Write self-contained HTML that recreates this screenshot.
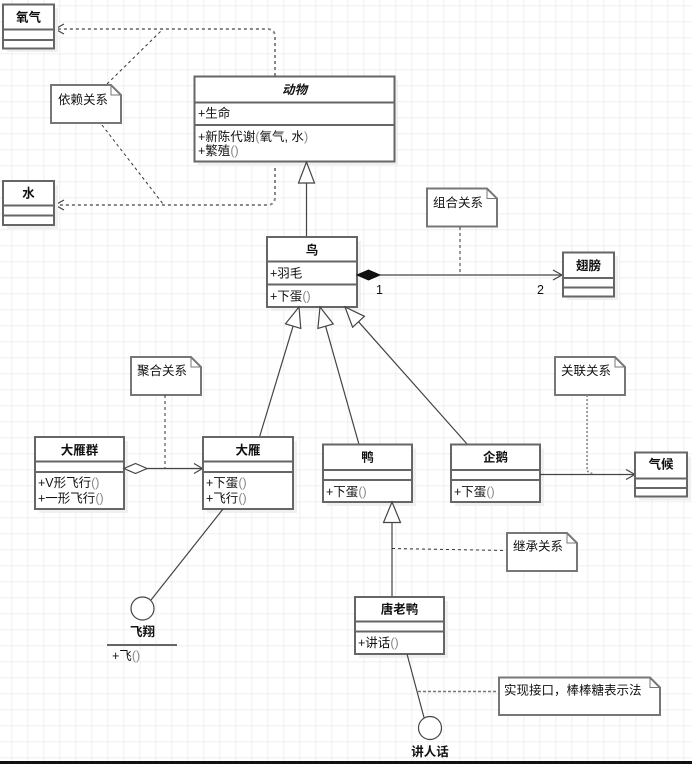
<!DOCTYPE html>
<html><head><meta charset="utf-8"><style>
html,body{margin:0;padding:0;background:#fff;}
svg{display:block;}
text{font-family:"Liberation Sans","Noto Sans CJK SC",sans-serif;font-size:12.5px;fill:#111;}
.t{font-weight:bold;text-anchor:middle;}
.p{fill:#888;}
.box{fill:#fff;stroke:#666;stroke-width:2;}
.sep{stroke:#666;stroke-width:2;}
.note{fill:#fff;stroke:#777;stroke-width:2;}
.ln{stroke:#444;stroke-width:1.2;fill:none;}
.dep{stroke:#888;stroke-width:2;stroke-dasharray:3,3;fill:none;}
.nc{stroke:#333;stroke-width:1;stroke-dasharray:3,3;fill:none;}
.shadow{fill:#f0f0f0;}
</style></head><body>
<svg width="692" height="764" viewBox="0 0 692 764" xmlns="http://www.w3.org/2000/svg">
<defs>
<pattern id="g" x="11.5" y="5.5" width="16" height="16" patternUnits="userSpaceOnUse">
<path d="M0,0 V16 M0,0 H16" stroke="#e9e9e9" stroke-width="1.5" fill="none"/>
</pattern>
</defs>
<rect width="692" height="764" fill="#fff"/>
<rect width="692" height="764" fill="url(#g)"/>

<!-- dependency lines -->
<path class="dep" d="M275,76 L275,37 Q275,29 267,29 L56,29"/>
<path class="dep" d="M275,162 L275,197 Q275,205 267,205 L56,205"/>
<polyline class="ln" stroke="#666" points="64,24 55,29 64,34"/>
<polyline class="ln" stroke="#666" points="64,200 55,205 64,210"/>
<line class="nc" x1="107" y1="84" x2="163" y2="29"/>
<line class="nc" x1="102" y1="125" x2="163" y2="204"/>

<!-- 氧气 -->
<rect class="shadow" x="7" y="8" width="51" height="44"/>
<rect class="box" x="3" y="4.5" width="51" height="44"/>
<line class="sep" x1="3" y1="29.5" x2="54" y2="29.5"/>
<line class="sep" x1="3" y1="40" x2="54" y2="40"/>
<text class="t" x="28.5" y="21.5">氧气</text>

<!-- 水 -->
<rect class="shadow" x="7" y="185" width="51" height="44"/>
<rect class="box" x="3" y="181" width="51" height="44"/>
<line class="sep" x1="3" y1="205.5" x2="54" y2="205.5"/>
<line class="sep" x1="3" y1="215.5" x2="54" y2="215.5"/>
<text class="t" x="28.5" y="197.5">水</text>

<!-- 依赖关系 note -->
<path class="note" d="M51,85 H111 L121,95 V123 H51 Z"/>
<path d="M111,85 V95 H121" stroke="#777" stroke-width="1" fill="none"/>
<text x="58" y="104">依赖关系</text>

<!-- 动物 -->
<rect class="shadow" x="198" y="80" width="200" height="85"/>
<rect class="box" x="194.5" y="76.5" width="200" height="85"/>
<line class="sep" x1="194.5" y1="102.5" x2="394.5" y2="102.5"/>
<line class="sep" x1="194.5" y1="125" x2="394.5" y2="125"/>
<text class="t" x="294.5" y="94" font-style="italic">动物</text>
<text x="198" y="117.5">+生命</text>
<text x="198" y="141">+新陈代谢<tspan class="p">(</tspan>氧气, 水<tspan class="p">)</tspan></text>
<text x="198" y="155">+繁殖<tspan class="p">()</tspan></text>

<!-- 鸟 → 动物 inheritance -->
<line class="ln" x1="306.5" y1="183" x2="306.5" y2="237" stroke-width="1.6"/>
<polygon points="306.5,162 298.5,183 314.5,183" fill="#fff" stroke="#444" stroke-width="1.2"/>

<!-- 鸟 -->
<rect class="shadow" x="271" y="241" width="90" height="70"/>
<rect class="box" x="267" y="237" width="90" height="70"/>
<line class="sep" x1="267" y1="261.5" x2="357" y2="261.5"/>
<line class="sep" x1="267" y1="284.5" x2="357" y2="284.5"/>
<text class="t" x="312" y="254.5">鸟</text>
<text x="270" y="277.5">+羽毛</text>
<text x="270" y="300.5">+下蛋<tspan class="p">()</tspan></text>

<!-- composition -->
<line class="ln" x1="380" y1="275" x2="562" y2="275" stroke-width="1.6"/>
<polygon points="357,275 368.5,270 380,275 368.5,280" fill="#111" stroke="#111" stroke-width="1"/>
<polyline class="ln" points="553,270 562,275 553,280"/>
<text x="376" y="294">1</text>
<text x="537" y="294">2</text>

<!-- 组合关系 note -->
<path class="note" d="M427,188.5 H487 L497,198.5 V226.5 H427 Z"/>
<path d="M487,188.5 V198.5 H497" stroke="#777" stroke-width="1" fill="none"/>
<text x="433" y="207">组合关系</text>
<line class="nc" x1="460" y1="227" x2="460" y2="275"/>

<!-- 翅膀 -->
<rect class="shadow" x="567" y="256" width="51" height="44"/>
<rect class="box" x="563" y="252.5" width="51" height="44"/>
<line class="sep" x1="563" y1="278" x2="614" y2="278"/>
<line class="sep" x1="563" y1="287.5" x2="614" y2="287.5"/>
<text class="t" x="588.5" y="270">翅膀</text>

<!-- generalizations to 鸟 -->
<line class="ln" x1="293.1" y1="326.1" x2="259.5" y2="437"/>
<polygon transform="translate(299,307) rotate(17.1)" points="0,0 -8,20 8,20" fill="#fff" stroke="#444" stroke-width="1.2"/>
<line class="ln" x1="325.6" y1="326.2" x2="359" y2="444.5"/>
<polygon transform="translate(320,307) rotate(-16.2)" points="0,0 -8,20 8,20" fill="#fff" stroke="#444" stroke-width="1.2"/>
<line class="ln" x1="358.5" y1="321.7" x2="467.5" y2="444.5"/>
<polygon transform="translate(345,307) rotate(-42.5)" points="0,0 -8,20 8,20" fill="#fff" stroke="#444" stroke-width="1.2"/>

<!-- 聚合关系 note -->
<path class="note" d="M131,357 H191 L201,367 V395 H131 Z"/>
<path d="M191,357 V367 H201" stroke="#777" stroke-width="1" fill="none"/>
<text x="137" y="375">聚合关系</text>
<line class="nc" x1="165" y1="395" x2="165" y2="468"/>

<!-- 大雁群 -->
<rect class="shadow" x="39" y="441" width="89" height="72"/>
<rect class="box" x="35" y="437" width="89" height="72"/>
<line class="sep" x1="35" y1="461.5" x2="124" y2="461.5"/>
<line class="sep" x1="35" y1="472" x2="124" y2="472"/>
<text class="t" x="79.5" y="454.5">大雁群</text>
<text x="38" y="487">+V形飞行<tspan class="p">()</tspan></text>
<text x="38" y="502.5">+一形飞行<tspan class="p">()</tspan></text>

<!-- aggregation -->
<line class="ln" x1="147" y1="468.5" x2="202" y2="468.5" stroke-width="1.6"/>
<polygon points="124,468.5 135.5,463.5 147,468.5 135.5,473.5" fill="#fff" stroke="#444" stroke-width="1.2"/>
<polyline class="ln" points="194,463.5 202.5,468.5 194,473.5"/>

<!-- 大雁 -->
<rect class="shadow" x="207" y="441" width="90" height="72"/>
<rect class="box" x="203" y="437" width="90" height="72"/>
<line class="sep" x1="203" y1="461.5" x2="293" y2="461.5"/>
<line class="sep" x1="203" y1="472" x2="293" y2="472"/>
<text class="t" x="248" y="454.5">大雁</text>
<text x="206" y="487">+下蛋<tspan class="p">()</tspan></text>
<text x="206" y="502.5">+飞行<tspan class="p">()</tspan></text>

<!-- 鸭 -->
<rect class="shadow" x="327" y="448.5" width="89" height="57.5"/>
<rect class="box" x="323" y="444.5" width="89" height="57.5"/>
<line class="sep" x1="323" y1="470" x2="412" y2="470"/>
<line class="sep" x1="323" y1="480" x2="412" y2="480"/>
<text class="t" x="367.5" y="461.5">鸭</text>
<text x="326" y="496">+下蛋<tspan class="p">()</tspan></text>

<!-- 企鹅 -->
<rect class="shadow" x="455" y="448.5" width="89" height="57.5"/>
<rect class="box" x="451" y="444.5" width="89" height="57.5"/>
<line class="sep" x1="451" y1="470" x2="540" y2="470"/>
<line class="sep" x1="451" y1="480" x2="540" y2="480"/>
<text class="t" x="495.5" y="461.5">企鹅</text>
<text x="454" y="496">+下蛋<tspan class="p">()</tspan></text>

<!-- association -->
<line class="ln" x1="540" y1="474.5" x2="635" y2="474.5" stroke-width="1.6"/>
<polyline class="ln" points="626,469.5 635,474.5 626,479.5"/>

<!-- 关联关系 note -->
<path class="note" d="M555,357 H615 L625,367 V395 H555 Z"/>
<path d="M615,357 V367 H625" stroke="#777" stroke-width="1" fill="none"/>
<text x="561" y="375">关联关系</text>
<path d="M587,395 V471 L593,474" stroke="#888" stroke-width="1.5" stroke-dasharray="2,2" fill="none"/>

<!-- 气候 -->
<rect class="shadow" x="639" y="456.5" width="52" height="44"/>
<rect class="box" x="635" y="452.5" width="52" height="44"/>
<line class="sep" x1="635" y1="478.5" x2="687" y2="478.5"/>
<line class="sep" x1="635" y1="488" x2="687" y2="488"/>
<text class="t" x="661" y="468.5">气候</text>

<!-- 唐老鸭 → 鸭 -->
<line class="ln" x1="392" y1="522" x2="392" y2="597" stroke-width="1.6"/>
<polygon points="392,502 383.5,522.5 400.5,522.5" fill="#fff" stroke="#444" stroke-width="1.2"/>

<!-- 继承关系 note -->
<path class="note" d="M507,533 H567 L577,543 V571 H507 Z"/>
<path d="M567,533 V543 H577" stroke="#777" stroke-width="1" fill="none"/>
<text x="513" y="550.5">继承关系</text>
<line class="nc" x1="392" y1="548.5" x2="506" y2="550.5"/>

<!-- 唐老鸭 -->
<rect class="shadow" x="359" y="601" width="89" height="57"/>
<rect class="box" x="355" y="597" width="89" height="57"/>
<line class="sep" x1="355" y1="621.5" x2="444" y2="621.5"/>
<line class="sep" x1="355" y1="631.5" x2="444" y2="631.5"/>
<text class="t" x="399.5" y="613.5">唐老鸭</text>
<text x="358" y="647">+讲话<tspan class="p">()</tspan></text>

<!-- 讲人话 lollipop -->
<line class="ln" x1="407" y1="654" x2="424" y2="717.5"/>
<circle cx="430" cy="728" r="11.5" fill="#fff" stroke="#444" stroke-width="1.2"/>
<text class="t" x="430" y="756">讲人话</text>

<!-- 实现接口 note -->
<path class="note" d="M499,677.5 H650 L660,687.5 V715 H499 Z"/>
<path d="M650,677.5 V687.5 H660" stroke="#777" stroke-width="1" fill="none"/>
<text x="504" y="694.5">实现接口，棒棒糖表示法</text>
<line x1="418" y1="691.5" x2="499" y2="691.5" stroke="#777" stroke-width="1.5" stroke-dasharray="3,2"/>

<!-- 飞翔 lollipop -->
<line class="ln" x1="223" y1="509" x2="151" y2="600"/>
<circle cx="142.5" cy="608.5" r="11.5" fill="#fff" stroke="#444" stroke-width="1.2"/>
<text class="t" x="142.5" y="636">飞翔</text>
<line x1="107" y1="645" x2="177" y2="645" stroke="#666" stroke-width="2"/>
<text x="112" y="660">+飞<tspan class="p">()</tspan></text>

<!-- bottom band -->
<rect x="0" y="761" width="692" height="3" fill="#111"/>
</svg>
</body></html>
